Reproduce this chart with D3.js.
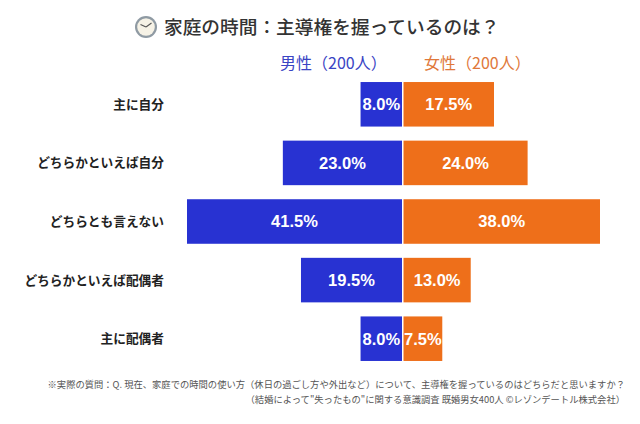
<!DOCTYPE html>
<html lang="ja">
<head>
<meta charset="utf-8">
<script src="https://cdn.jsdelivr.net/npm/d3@7/dist/d3.min.js"></script>
<style>
html,body{margin:0;padding:0;background:#fff;}
svg{display:block;}
text{font-family:"Noto Sans CJK JP","Noto Sans",sans-serif;}
.val{font-family:"Liberation Sans",Arial,sans-serif;font-weight:700;font-size:16.5px;fill:#fff;text-anchor:middle;}
</style>
</head>
<body>
<svg id="chart" width="640" height="424"></svg>
<script>
const categories = ["主に自分","どちらかといえば自分","どちらとも言えない","どちらかといえば配偶者","主に配偶者"];
const maleValues = [8.0,23.0,41.5,19.5,8.0];
const femaleValues = [17.5,24.0,38.0,13.0,7.5];
const chartTitle = "家庭の時間：主導権を握っているのは？";
const maleLabel = "男性（200人）";
const femaleLabel = "女性（200人）";
const noteLines = [
  "※実際の質問：Q. 現在、家庭での時間の使い方（休日の過ごし方や外出など）について、主導権を握っているのはどちらだと思いますか？",
  "（結婚によって\"失ったもの\"に関する意識調査 既婚男女400人 ©レゾンデートル株式会社）"
];

const svg = d3.select("#chart");
const blue = "#2832d2", orange = "#ee6f1a";

const y = d3.scaleBand().domain(categories).range([75, 368]).paddingInner(0.24).paddingOuter(0.12);
const xMale = d3.scaleLinear().domain([0, 41.5]).range([402, 187]);
const xFemale = d3.scaleLinear().domain([0, 38]).range([403.5, 600]);

// title with a small wall clock drawn beside it
const clock = svg.append("g").attr("transform", "translate(146,27)");
clock.append("circle").attr("r", 11).attr("fill", "#8f9aa3");
clock.append("circle").attr("r", 8.8).attr("fill", "#f6f2e6");
clock.append("line").attr("x1",0).attr("y1",0).attr("x2",-5.5).attr("y2",-2.5).attr("stroke","#555").attr("stroke-width",1.1);
clock.append("line").attr("x1",0).attr("y1",0).attr("x2",5.5).attr("y2",-4).attr("stroke","#555").attr("stroke-width",1.1);

svg.append("text").attr("x",164).attr("y",33.5)
  .attr("font-size",18.7).attr("font-weight",500).attr("fill","#333")
  .text(chartTitle);

svg.append("text").attr("x",280).attr("y",69).attr("font-size",16).attr("fill","#3a44c4").text(maleLabel);
svg.append("text").attr("x",424).attr("y",69).attr("font-size",16).attr("fill","#e0783a").text(femaleLabel);

// category labels, right aligned against the male bars
svg.append("g").selectAll("text").data(categories).join("text")
  .attr("x",164).attr("y",d=>y(d)+y.bandwidth()/2).attr("dy","0.36em")
  .attr("text-anchor","end").attr("font-size",12.7).attr("font-weight",700).attr("fill","#222")
  .text(d=>d);

// male bars grow left from the centre, female bars grow right
svg.append("g").selectAll("rect").data(maleValues).join("rect")
  .attr("x",d=>xMale(d)).attr("y",(d,i)=>y(categories[i]))
  .attr("width",d=>xMale(0)-xMale(d)).attr("height",y.bandwidth()).attr("fill",blue);
svg.append("g").selectAll("rect").data(femaleValues).join("rect")
  .attr("x",xFemale(0)).attr("y",(d,i)=>y(categories[i]))
  .attr("width",d=>xFemale(d)-xFemale(0)).attr("height",y.bandwidth()).attr("fill",orange);

svg.append("g").selectAll("text").data(maleValues).join("text").attr("class","val")
  .attr("x",d=>(xMale(d)+xMale(0))/2).attr("y",(d,i)=>y(categories[i])+y.bandwidth()/2).attr("dy","0.36em")
  .text(d=>d.toFixed(1)+"%");
svg.append("g").selectAll("text").data(femaleValues).join("text").attr("class","val")
  .attr("x",d=>(xFemale(d)+xFemale(0))/2).attr("y",(d,i)=>y(categories[i])+y.bandwidth()/2).attr("dy","0.36em")
  .text(d=>d.toFixed(1)+"%");

// footnotes
svg.append("g").selectAll("text").data(noteLines).join("text")
  .attr("x",625).attr("y",(d,i)=>388+i*14.5).attr("text-anchor","end")
  .attr("font-size",9.3).attr("fill","#555").text(d=>d);
</script>
</body>
</html>
